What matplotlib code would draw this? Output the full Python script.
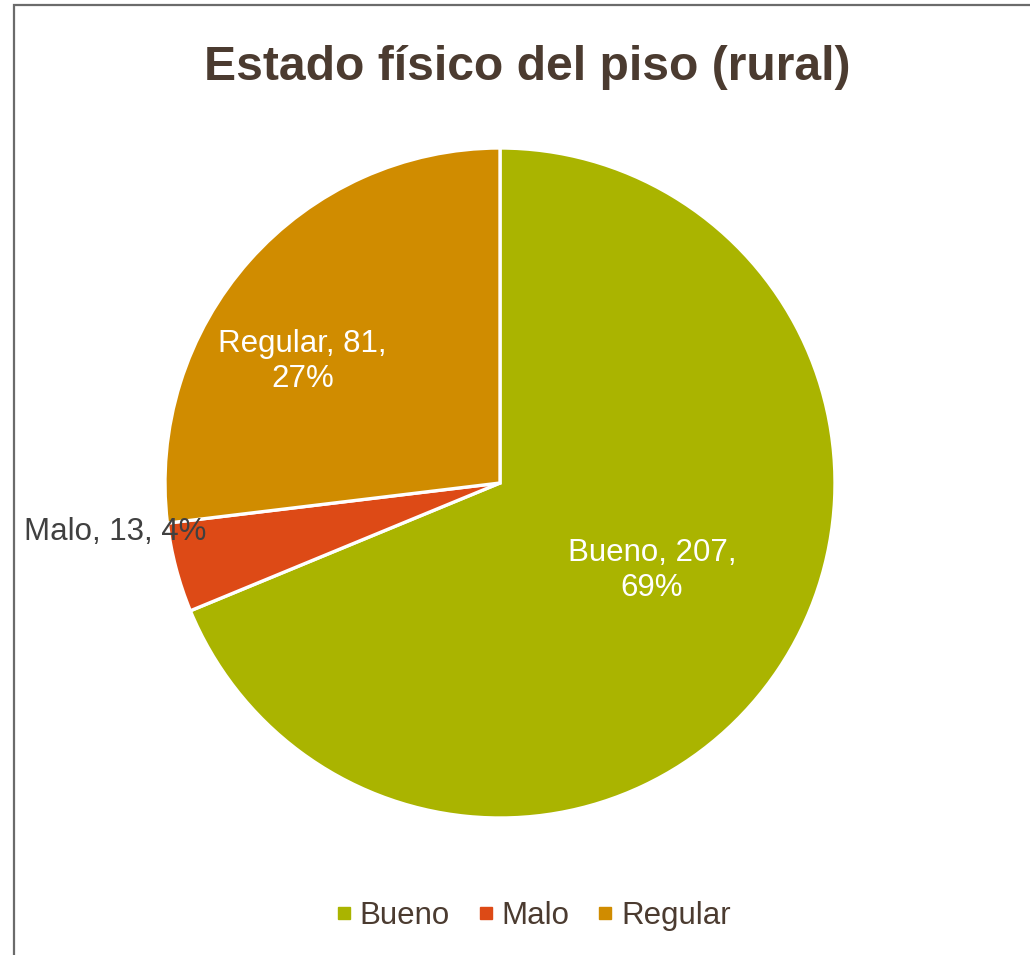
import matplotlib.pyplot as plt
from matplotlib.patches import Rectangle
from matplotlib.lines import Line2D

# === dane ===
categories = ["Bueno", "Malo", "Regular"]
values = [207, 13, 81]
colors = ["#AAB400", "#DD4A16", "#D08C00"]

title = "Estado físico del piso (rural)"
text_color = "#4B3B30"

plt.rcParams["font.family"] = ["Liberation Sans", "DejaVu Sans"]

fig = plt.figure(figsize=(10.3, 9.55), dpi=100)

# ramka wykresu (jak w Excelu)
fig.patches.append(Rectangle((13.5 / 1030, -0.05), 1.2, 1.05 - 5 / 955,
                             transform=fig.transFigure, fill=False,
                             edgecolor="#6b6b6b", linewidth=1.6))

# === pie ===
cx, cy, r = 500, 483, 335
ax = fig.add_axes([(cx - r) / 1030, (955 - cy - r) / 955, 2 * r / 1030, 2 * r / 955])
wedges, _ = ax.pie(values, colors=colors, startangle=90, counterclock=False,
                   radius=1, wedgeprops=dict(edgecolor="white", linewidth=2.4))
ax.set_xlim(-1, 1)
ax.set_ylim(-1, 1)
ax.set_aspect("equal")
ax.axis("off")

# etykiety danych
total = sum(values)
label_xy = [(0.454, -0.262), (-1.149, -0.146), (-0.589, 0.362)]
label_sep = ["\n", " ", "\n"]
label_col = ["white", "#404040", "white"]
for cat, val, (x, y), sep, col in zip(categories, values, label_xy, label_sep, label_col):
    pct = round(100 * val / total)
    ax.text(x, y, f"{cat}, {val},{sep}{pct}%", ha="center", va="center",
            fontsize=22.5, color=col, linespacing=1.2, clip_on=False)

fig.text(527 / 1030, 1 - 68 / 955, title, ha="center", va="center",
         fontsize=34.6, fontweight="bold", color=text_color)

# legenda
handles = [Line2D([], [], marker="s", linestyle="none", markersize=8,
                  markerfacecolor=c, markeredgecolor=c) for c in colors]
fig.legend(handles, categories, loc="center", bbox_to_anchor=(531 / 1030, 1 - 916 / 955),
           ncol=3, frameon=False, fontsize=22.5, labelcolor=text_color,
           handletextpad=0.1, columnspacing=0.75, handlelength=0.8)

fig.savefig("out.png", dpi=100)
